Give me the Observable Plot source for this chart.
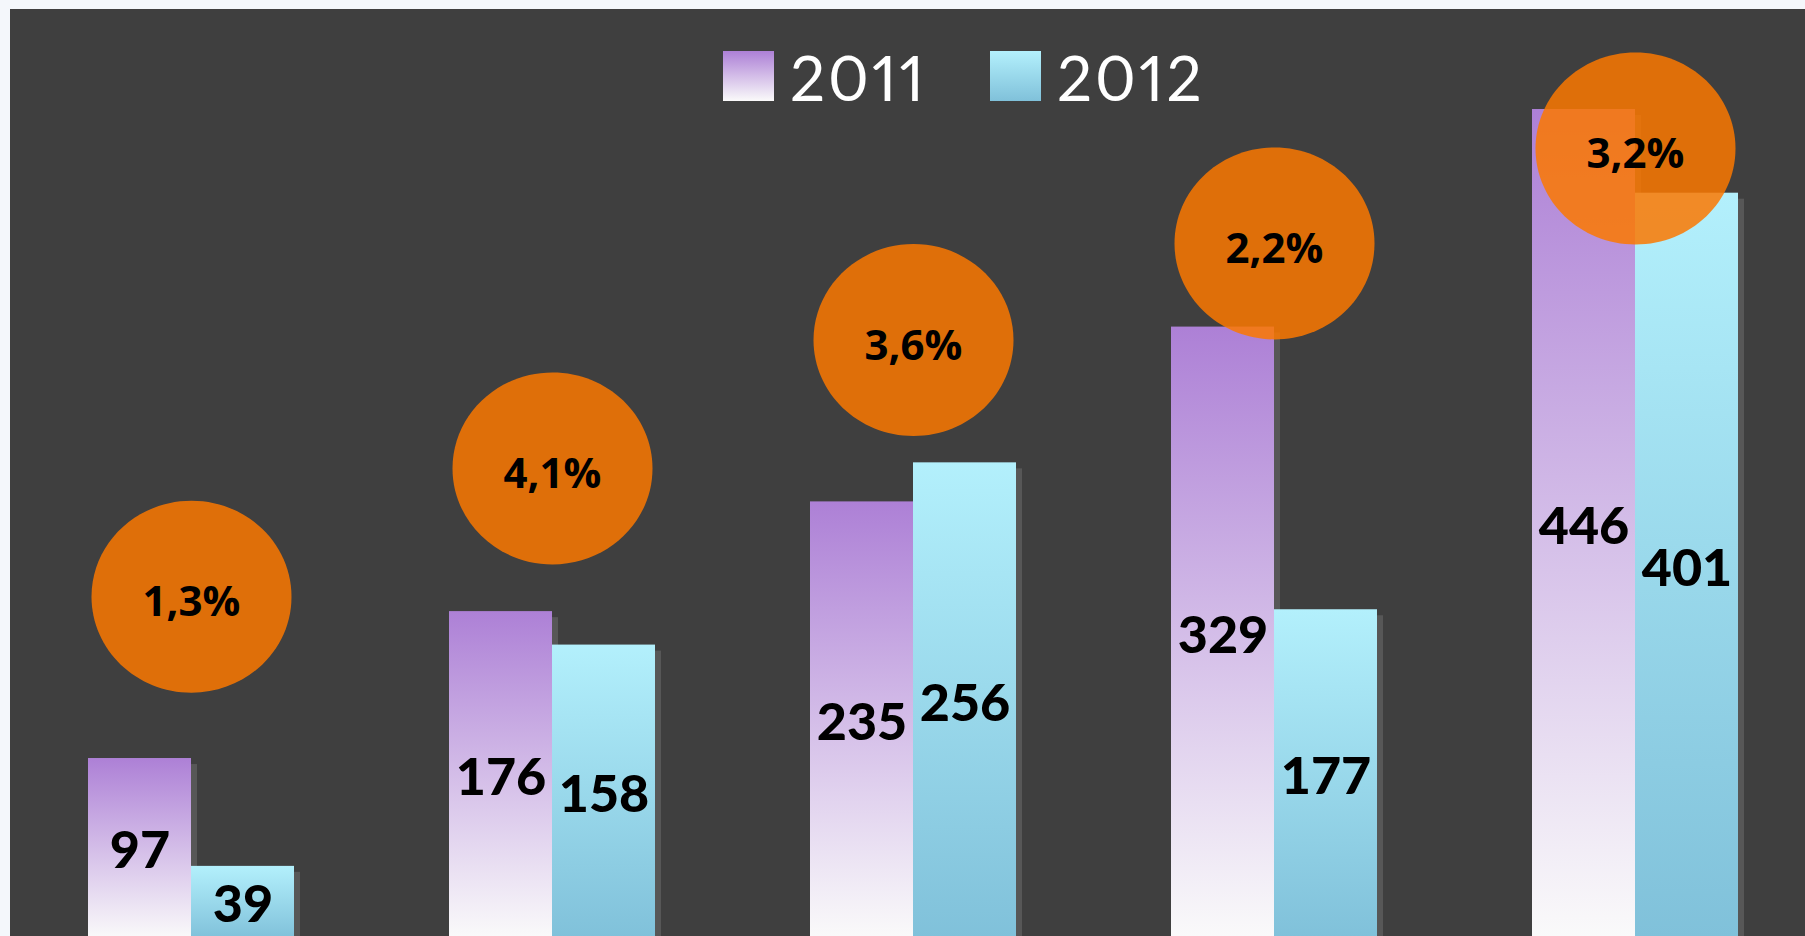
<!DOCTYPE html>
<html>
<head>
<meta charset="utf-8">
<script src="https://cdn.jsdelivr.net/npm/d3@7"></script>
<script src="https://cdn.jsdelivr.net/npm/@observablehq/plot@0.6"></script>
<style>
  html, body { margin: 0; padding: 0; background: #f4f7fb; width: 1805px; height: 936px; overflow: hidden; }
  #panel { position: absolute; left: 10px; top: 9px; width: 1795px; height: 927px; background: #3f3f3f; overflow: hidden; }
  #panel svg { display: block; }
  #legend { position: absolute; left: 0; top: 0; pointer-events: none; }
  #legend text { font-variant-numeric: proportional-nums; font-feature-settings: "pnum" 1; letter-spacing: 3px; }
</style>
</head>
<body>
<svg width="0" height="0" style="position:absolute">
  <defs>
    <linearGradient id="g2011" x1="0" y1="0" x2="0" y2="1">
      <stop offset="0" stop-color="#ad80d6"/>
      <stop offset="1" stop-color="#fafafa"/>
    </linearGradient>
    <linearGradient id="g2012" x1="0" y1="0" x2="0" y2="1">
      <stop offset="0" stop-color="#b3f0fc"/>
      <stop offset="1" stop-color="#80c1da"/>
    </linearGradient>
  </defs>
</svg>
<div id="panel"></div>
<script>
// ---- data ----
const categories = ["Grupo 1", "Grupo 2", "Grupo 3", "Grupo 4", "Grupo 5"];
const years = ["2011", "2012"];
const values2011 = [97, 176, 235, 329, 446];
const values2012 = [39, 158, 256, 177, 401];
const growthLabels = ["1,3%", "4,1%", "3,6%", "2,2%", "3,2%"];
const growthAnchor = [184, 253, 322, 374, 425]; // bubble height, in value units

// ---- tables ----
const bars = categories.flatMap((c, i) => [
  {cat: c, year: years[0], value: values2011[i]},
  {cat: c, year: years[1], value: values2012[i]}
]);
const bubbles = categories.map((c, i) => ({cat: c, label: growthLabels[i], y: growthAnchor[i]}));

// ellipse symbol (slightly wider than tall)
const ellipse = {
  draw(ctx, size) {
    const ry = Math.sqrt(size / Math.PI), rx = ry * 100 / 96, k = 0.5523;
    ctx.moveTo(rx, 0);
    ctx.bezierCurveTo(rx, k * ry, k * rx, ry, 0, ry);
    ctx.bezierCurveTo(-k * rx, ry, -rx, k * ry, -rx, 0);
    ctx.bezierCurveTo(-rx, -k * ry, -k * rx, -ry, 0, -ry);
    ctx.bezierCurveTo(k * rx, -ry, rx, -k * ry, rx, 0);
    ctx.closePath();
  }
};

const chart = Plot.plot({
  width: 1795,
  height: 927,
  margin: 0,
  style: {background: "transparent", overflow: "hidden"},
  fx: {domain: categories, range: [-0.9, 1807.9], paddingInner: 0.428, paddingOuter: 0.214, axis: null, label: null},
  x: {domain: years, padding: 0, axis: null},
  y: {domain: [0, 500], range: [929.4, -0.4], axis: null},
  color: {type: "identity"},
  marks: [
    Plot.barY(bars, {fx: "cat", x: "year", y: "value", fill: "#575757", dx: 6, dy: 6}),
    Plot.barY(bars, {fx: "cat", x: "year", y: "value", fill: d => `url(#g${d.year})`}),
    Plot.text(bars, {fx: "cat", x: "year", y: d => d.value / 2, text: d => String(d.value),
      fontSize: 52, fontWeight: 900, fontFamily: "Lato", fill: "#000", dy: 3}),
    Plot.dot(bubbles, {fx: "cat", y: "y", r: 96, symbol: ellipse, fill: "rgb(252,120,0)", fillOpacity: 0.85}),
    Plot.text(bubbles, {fx: "cat", y: "y", text: "label",
      fontSize: 42, fontWeight: 700, fontFamily: "Open Sans", fill: "#000", dy: 6})
  ]
});
document.getElementById("panel").appendChild(chart);

// ---- legend (overlay) ----
const legend = d3.select("body").append("svg")
  .attr("id", "legend").attr("width", 1805).attr("height", 140);
const items = [
  {year: years[0], sx: 723, tx: 790},
  {year: years[1], sx: 990, tx: 1057}
];
const g = legend.selectAll("g").data(items).join("g");
g.append("rect").attr("x", d => d.sx).attr("y", 51).attr("width", 51).attr("height", 50)
  .attr("fill", d => `url(#g${d.year})`);
g.append("text").attr("x", d => d.tx).attr("y", 101)
  .attr("fill", "#ffffff").attr("font-family", "Lato").attr("font-weight", 400)
  .attr("font-size", 62)
  .text(d => d.year);
</script>
</body>
</html>
